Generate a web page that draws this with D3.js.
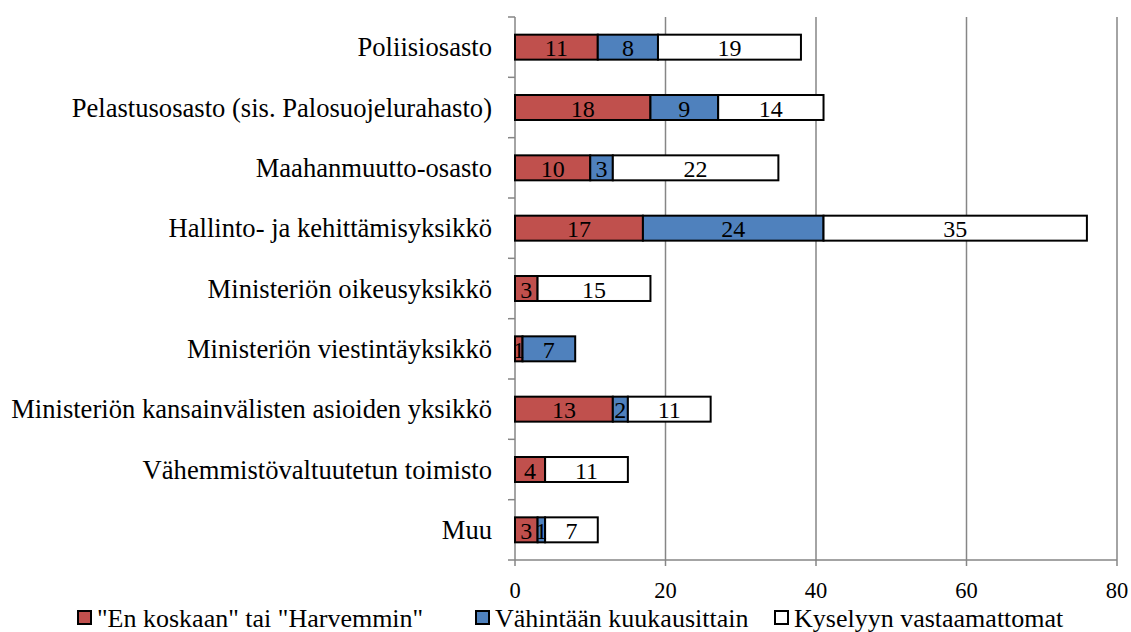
<!DOCTYPE html>
<html>
<head>
<meta charset="utf-8">
<script src="https://cdn.jsdelivr.net/npm/d3@7"></script>
<style>
  html, body { margin: 0; padding: 0; background: #fff; }
  svg { display: block; }
</style>
</head>
<body>
<svg id="chart" width="1131" height="632"></svg>
<script>
const categories = [
  "Poliisiosasto",
  "Pelastusosasto (sis. Palosuojelurahasto)",
  "Maahanmuutto-osasto",
  "Hallinto- ja kehittämisyksikkö",
  "Ministeriön oikeusyksikkö",
  "Ministeriön viestintäyksikkö",
  "Ministeriön kansainvälisten asioiden yksikkö",
  "Vähemmistövaltuutetun toimisto",
  "Muu"
];
const seriesNames = ["\"En koskaan\" tai \"Harvemmin\"", "Vähintään kuukausittain", "Kyselyyn vastaamattomat"];
const harvemmin = [11, 18, 10, 17, 3, 1, 13, 4, 3];
const kuukausittain = [8, 9, 3, 24, 0, 7, 2, 0, 1];
const vastaamattomat = [19, 14, 22, 35, 15, 0, 11, 11, 7];
const xTicks = [0, 20, 40, 60, 80];
const colors = ["#C0504D", "#4F81BD", "#FFFFFF"];

const FONT = "'Liberation Serif', 'Times New Roman', Tinos, 'DejaVu Serif', serif";
const svg = d3.select("#chart");
const x = d3.scaleLinear().domain([0, 80]).range([515, 1117]);
const y = d3.scaleBand().domain(categories).range([17, 560]).paddingInner(0.586).paddingOuter(0.293);
const step = y.step();

const seriesVals = [harvemmin, kuukausittain, vastaamattomat];
const rows = categories.map((c, i) => {
  const o = { cat: c };
  seriesNames.forEach((s, k) => o[s] = seriesVals[k][i]);
  return o;
});
const stack = d3.stack().keys(seriesNames)(rows);

// gridlines
svg.append("g").selectAll("line").data(xTicks.filter(d => d > 0)).join("line")
  .attr("x1", d => x(d)).attr("x2", d => x(d))
  .attr("y1", 17).attr("y2", 560)
  .attr("stroke", "#868686").attr("stroke-width", 1.5);

// y axis line + ticks at band boundaries
const yAxisG = svg.append("g");
yAxisG.append("line").attr("x1", x(0)).attr("x2", x(0)).attr("y1", 17).attr("y2", 560)
  .attr("stroke", "#868686").attr("stroke-width", 1.5);
const bounds = d3.range(categories.length + 1).map(i => 17 + i * step);
yAxisG.selectAll("line.t").data(bounds).join("line").attr("class", "t")
  .attr("x1", x(0) - 7).attr("x2", x(0)).attr("y1", d => d).attr("y2", d => d)
  .attr("stroke", "#868686").attr("stroke-width", 1.5);
yAxisG.selectAll("text").data(categories).join("text")
  .attr("x", x(0) - 23).attr("y", d => y(d) + y.bandwidth() / 2)
  .attr("text-anchor", "end").attr("dominant-baseline", "central")
  .style("font-family", FONT).attr("font-size", 26.6).text(d => d);

// x axis
const xAxisG = svg.append("g");
xAxisG.append("line").attr("x1", x(0)).attr("x2", x(80)).attr("y1", 560).attr("y2", 560)
  .attr("stroke", "#868686").attr("stroke-width", 1.5);
xAxisG.selectAll("line.t").data(xTicks).join("line").attr("class", "t")
  .attr("x1", d => x(d)).attr("x2", d => x(d)).attr("y1", 560).attr("y2", 566)
  .attr("stroke", "#868686").attr("stroke-width", 1.5);
xAxisG.selectAll("text").data(xTicks).join("text")
  .attr("x", d => x(d)).attr("y", 590).attr("text-anchor", "middle")
  .attr("dominant-baseline", "central").style("font-family", FONT).attr("font-size", 22.5).text(d => d);

// bars
const barsG = svg.append("g");
stack.forEach((layer, k) => {
  const g = barsG.append("g");
  g.selectAll("rect").data(layer.filter(d => d[1] - d[0] > 0)).join("rect")
    .attr("x", d => x(d[0])).attr("width", d => x(d[1]) - x(d[0]))
    .attr("y", d => y(d.data.cat)).attr("height", y.bandwidth())
    .attr("fill", colors[k]).attr("stroke", "#000").attr("stroke-width", 2);
});
stack.forEach((layer, k) => {
  barsG.append("g").selectAll("text").data(layer.filter(d => d[1] - d[0] > 0)).join("text")
    .attr("x", d => (x(d[0]) + x(d[1])) / 2)
    .attr("y", d => y(d.data.cat) + y.bandwidth() / 2 + 1)
    .attr("text-anchor", "middle").attr("dominant-baseline", "central")
    .style("font-family", FONT).attr("font-size", 24).text(d => d[1] - d[0]);
});

// legend
const legendX = [78, 476, 775];
const lg = svg.append("g");
seriesNames.forEach((s, k) => {
  lg.append("rect").attr("x", legendX[k]).attr("y", 611).attr("width", 13).attr("height", 13)
    .attr("fill", colors[k]).attr("stroke", "#000").attr("stroke-width", 2);
  lg.append("text").attr("x", legendX[k] + 19).attr("y", 618.5)
    .attr("dominant-baseline", "central").style("font-family", FONT).attr("font-size", 26).text(s);
});
</script>
</body>
</html>
